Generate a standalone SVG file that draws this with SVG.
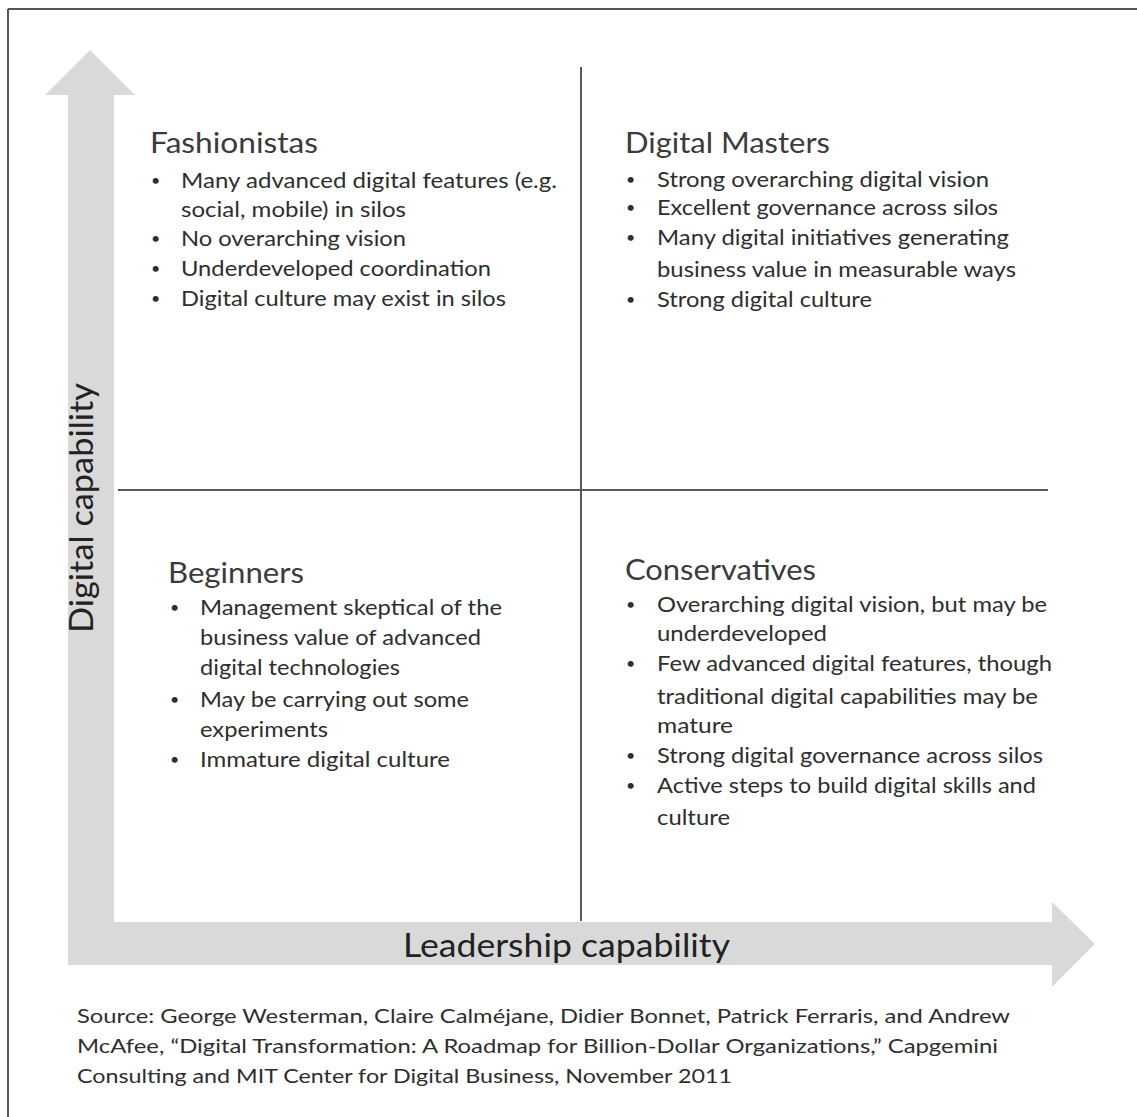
<svg xmlns="http://www.w3.org/2000/svg" width="1137" height="1117" viewBox="0 0 1137 1117">
  <style>
    text { font-family: Lato, "Open Sans", "Liberation Sans", sans-serif; }
    .title { font-size: 28px; fill: #3b3b3b; }
    .body { font-size: 22px; fill: #2e2e2e; }
    .dot { font-size: 16px; fill: #2e2e2e; }
    .axis { font-size: 33px; fill: #222; }
    .source { font-size: 20px; fill: #2e2e2e; }
    .frame { stroke: #555; stroke-width: 2; fill: none; }
    .divider { stroke: #5a5a5a; stroke-width: 2; fill: none; }
    .arrow { fill: #d9d9d9; stroke: none; }
  </style>

  <!-- page frame (top and left edges) -->
  <g id="frame">
    <line class="frame" x1="8" y1="9" x2="1137" y2="9"/>
    <line class="frame" x1="8" y1="9" x2="8" y2="1117"/>
  </g>

  <!-- axes and quadrant dividers -->
  <g id="connectors">
    <polygon class="arrow" points="90,50 135,95 114,95 114,922 1052,922 1052,902 1095,944 1052,987 1052,965 68,965 68,95 45,95"/>
    <line class="divider" x1="581" y1="67" x2="581" y2="921"/>
    <line class="divider" x1="118" y1="490" x2="1048" y2="490"/>
  </g>

  <g id="axis-y">
    <text class="axis" transform="translate(93,633) rotate(-90)" textLength="250" lengthAdjust="spacingAndGlyphs">Digital capability</text>
  </g>
  <g id="axis-x">
    <text class="axis" x="403" y="957" textLength="327" lengthAdjust="spacingAndGlyphs">Leadership capability</text>
  </g>

  <g id="fashionistas">
    <text class="title" x="150" y="153" textLength="168" lengthAdjust="spacingAndGlyphs">Fashionistas</text>
    <text class="dot" x="151" y="186">•</text>
    <text class="body" x="181" y="188" textLength="376" lengthAdjust="spacingAndGlyphs">Many advanced digital features (e.g.</text>
    <text class="body" x="181" y="217" textLength="225" lengthAdjust="spacingAndGlyphs">social, mobile) in silos</text>
    <text class="dot" x="151" y="244">•</text>
    <text class="body" x="181" y="246" textLength="225" lengthAdjust="spacingAndGlyphs">No overarching vision</text>
    <text class="dot" x="151" y="274">•</text>
    <text class="body" x="181" y="276" textLength="310" lengthAdjust="spacingAndGlyphs">Underdeveloped coordination</text>
    <text class="dot" x="151" y="304">•</text>
    <text class="body" x="181" y="306" textLength="325" lengthAdjust="spacingAndGlyphs">Digital culture may exist in silos</text>
  </g>

  <g id="digital-masters">
    <text class="title" x="625" y="153" textLength="205" lengthAdjust="spacingAndGlyphs">Digital Masters</text>
    <text class="dot" x="626" y="185">•</text>
    <text class="body" x="657" y="187" textLength="332" lengthAdjust="spacingAndGlyphs">Strong overarching digital vision</text>
    <text class="dot" x="626" y="213">•</text>
    <text class="body" x="657" y="215" textLength="341" lengthAdjust="spacingAndGlyphs">Excellent governance across silos</text>
    <text class="dot" x="626" y="243">•</text>
    <text class="body" x="657" y="245" textLength="352" lengthAdjust="spacingAndGlyphs">Many digital initiatives generating</text>
    <text class="body" x="657" y="277" textLength="359" lengthAdjust="spacingAndGlyphs">business value in measurable ways</text>
    <text class="dot" x="626" y="305">•</text>
    <text class="body" x="657" y="307" textLength="215" lengthAdjust="spacingAndGlyphs">Strong digital culture</text>
  </g>

  <g id="beginners">
    <text class="title" x="168" y="583" textLength="136" lengthAdjust="spacingAndGlyphs">Beginners</text>
    <text class="dot" x="170" y="613">•</text>
    <text class="body" x="200" y="615" textLength="302" lengthAdjust="spacingAndGlyphs">Management skeptical of the</text>
    <text class="body" x="200" y="645" textLength="281" lengthAdjust="spacingAndGlyphs">business value of advanced</text>
    <text class="body" x="200" y="675" textLength="200" lengthAdjust="spacingAndGlyphs">digital technologies</text>
    <text class="dot" x="170" y="705">•</text>
    <text class="body" x="200" y="707" textLength="269" lengthAdjust="spacingAndGlyphs">May be carrying out some</text>
    <text class="body" x="200" y="737" textLength="128" lengthAdjust="spacingAndGlyphs">experiments</text>
    <text class="dot" x="170" y="765">•</text>
    <text class="body" x="200" y="767" textLength="250" lengthAdjust="spacingAndGlyphs">Immature digital culture</text>
  </g>

  <g id="conservatives">
    <text class="title" x="625" y="580" textLength="191" lengthAdjust="spacingAndGlyphs">Conservatives</text>
    <text class="dot" x="626" y="610">•</text>
    <text class="body" x="657" y="612" textLength="390" lengthAdjust="spacingAndGlyphs">Overarching digital vision, but may be</text>
    <text class="body" x="657" y="641" textLength="170" lengthAdjust="spacingAndGlyphs">underdeveloped</text>
    <text class="dot" x="626" y="669">•</text>
    <text class="body" x="657" y="671" textLength="395" lengthAdjust="spacingAndGlyphs">Few advanced digital features, though</text>
    <text class="body" x="657" y="704" textLength="381" lengthAdjust="spacingAndGlyphs">traditional digital capabilities may be</text>
    <text class="body" x="657" y="733" textLength="76" lengthAdjust="spacingAndGlyphs">mature</text>
    <text class="dot" x="626" y="761">•</text>
    <text class="body" x="657" y="763" textLength="386" lengthAdjust="spacingAndGlyphs">Strong digital governance across silos</text>
    <text class="dot" x="626" y="791">•</text>
    <text class="body" x="657" y="793" textLength="379" lengthAdjust="spacingAndGlyphs">Active steps to build digital skills and</text>
    <text class="body" x="657" y="825" textLength="73" lengthAdjust="spacingAndGlyphs">culture</text>
  </g>

  <g id="source">
    <text class="source" x="77" y="1023" textLength="933" lengthAdjust="spacingAndGlyphs">Source: George Westerman, Claire Calméjane, Didier Bonnet, Patrick Ferraris, and Andrew</text>
    <text class="source" x="77" y="1053" textLength="921" lengthAdjust="spacingAndGlyphs">McAfee, “Digital Transformation: A Roadmap for Billion-Dollar Organizations,” Capgemini</text>
    <text class="source" x="77" y="1083" textLength="655" lengthAdjust="spacingAndGlyphs">Consulting and MIT Center for Digital Business, November 2011</text>
  </g>
</svg>
